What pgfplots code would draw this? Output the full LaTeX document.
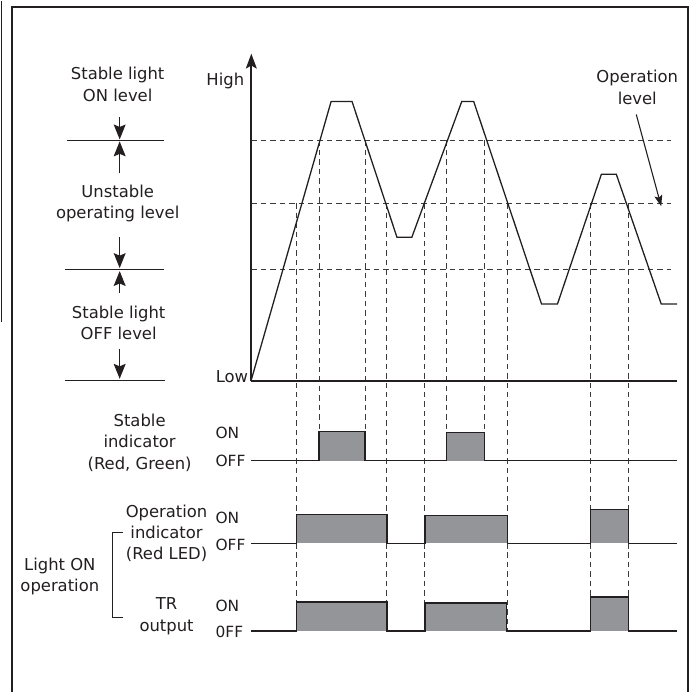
\documentclass[border=0pt]{standalone}
\usepackage{pgfplots}
\pgfplotsset{compat=1.18}
\usepackage{fontspec}
\setmainfont{DejaVu Sans}
\usetikzlibrary{arrows.meta}
\definecolor{ink}{HTML}{231F20}
\definecolor{barfill}{HTML}{939598}
\definecolor{dashc}{HTML}{3A3A3A}
\tikzset{lbl/.style={font=\fontsize{16.5}{21.5}\selectfont, text=ink, inner sep=0pt},
  sml/.style={font=\fontsize{15.5}{18}\selectfont, text=ink, inner sep=0pt, anchor=west},
  tipA/.tip={Stealth[length=15pt,width=12pt,inset=2.5pt]},
  tipB/.tip={Stealth[length=15pt,width=11pt,inset=3pt]},
  tipC/.tip={Stealth[length=11pt,width=8pt,inset=2pt]}}
\begin{document}
\begin{tikzpicture}
\begin{axis}[x=1bp, y=1bp, xmin=0, xmax=692, ymin=0, ymax=693, y dir=reverse,
  hide axis, clip=false,
  dl/.style={dashc, line width=1pt, dash pattern=on 5.5pt off 4pt},
  la/.style={ink, line width=1.2pt, -tipA}]
\path (axis cs:0,0) rectangle (axis cs:692,693);
% frame
\addplot[ink, line width=2.2pt] coordinates {(12,693) (12,6) (690,6) (690,693)};
\addplot[ink, line width=1.6pt] coordinates {(1.5,0) (1.5,322)};
% dashed horizontal levels
\addplot[dl] coordinates {(252,140) (673,140)};
\addplot[dl] coordinates {(252,203) (673,203)};
\addplot[dl] coordinates {(252,269) (673,269)};
% dashed verticals
\addplot[dl] coordinates {(320,140) (320,432)};
\addplot[dl] coordinates {(448,140) (448,432)};
\addplot[dl] coordinates {(366,140) (366,461)};
\addplot[dl] coordinates {(486,140) (486,461)};
\addplot[dl] coordinates {(297,203) (297,632)};
\addplot[dl] coordinates {(388,203) (388,632)};
\addplot[dl] coordinates {(426,203) (426,632)};
\addplot[dl] coordinates {(509,203) (509,632)};
\addplot[dl] coordinates {(592,203) (592,632)};
\addplot[dl] coordinates {(630,203) (630,632)};
% main axis
\addplot[ink, line width=1.7pt, -tipB] coordinates {(252,381) (252,53)};
\addplot[ink, line width=1.7pt] coordinates {(252,381) (679,381)};
% waveform
\addplot[ink, line width=1.3pt] coordinates {(252,380) (332,101) (353,101) (398,237) (413,237) (463,101) (475,101) (543,304) (559,304) (603,174) (618,174) (663,304) (679,304)};
% bars: stable indicator
\addplot[draw=none, fill=barfill] coordinates {(320,461) (320,432) (366,432) (366,461)} -- cycle;
\addplot[draw=none, fill=barfill] coordinates {(448,461) (448,433) (486,433) (486,461)} -- cycle;
\addplot[ink, line width=1.4pt] coordinates {(252,461) (320,461) (320,432) (366,432) (366,461) (448,461) (448,433) (486,433) (486,461) (679,461)};
% operation indicator
\addplot[draw=none, fill=barfill] coordinates {(297,544) (297,515) (388,515) (388,544)} -- cycle;
\addplot[draw=none, fill=barfill] coordinates {(426,544) (426,516) (509,516) (509,544)} -- cycle;
\addplot[draw=none, fill=barfill] coordinates {(592,544) (592,510) (630,510) (630,544)} -- cycle;
\addplot[ink, line width=1.4pt] coordinates {(252,544) (297,544) (297,515) (388,515) (388,544) (426,544) (426,516) (509,516) (509,544) (592,544) (592,510) (630,510) (630,544) (679,544)};
% TR output
\addplot[draw=none, fill=barfill] coordinates {(297,632) (297,603) (388,603) (388,632)} -- cycle;
\addplot[draw=none, fill=barfill] coordinates {(426,632) (426,604) (508,604) (508,632)} -- cycle;
\addplot[draw=none, fill=barfill] coordinates {(592,632) (592,598) (630,598) (630,632)} -- cycle;
\addplot[ink, line width=1.4pt] coordinates {(252,632) (297,632) (297,603) (388,603) (388,632) (426,632) (426,604) (508,604) (508,632) (592,632) (592,598) (630,598) (630,632) (679,632)};
% left level marks
\addplot[ink, line width=1.3pt] coordinates {(67,140) (164,140)};
\addplot[ink, line width=1.3pt] coordinates {(65,269.5) (164,269.5)};
\addplot[ink, line width=1.3pt] coordinates {(65,381) (165,381)};
\addplot[la] coordinates {(120,117) (120,139)};
\addplot[la] coordinates {(120,173) (120,141)};
\addplot[la] coordinates {(120,237) (120,268)};
\addplot[la] coordinates {(120,293) (120,271)};
\addplot[la] coordinates {(120,349) (120,379)};
% operation level arrow
\addplot[ink, line width=1.1pt, -tipC] coordinates {(638,114) (663,206)};
% bracket
\addplot[ink, line width=1.1pt] coordinates {(123,533) (113,533) (113,618) (123,618)};
% texts
\node[lbl, anchor=east] at (axis cs:245,80) {High};
\node[lbl, anchor=east] at (axis cs:249,377) {Low};
\node[lbl, align=center] at (axis cs:118,84) {Stable light\\ON level};
\node[lbl, align=center] at (axis cs:118,203) {Unstable\\operating level};
\node[lbl, align=center] at (axis cs:119,323) {Stable light\\OFF level};
\node[lbl, align=center] at (axis cs:639,87) {Operation\\level};
\node[lbl, align=center] at (axis cs:140,443) {Stable\\indicator\\(Red, Green)};
\node[lbl, align=center] at (axis cs:167,534) {Operation\\indicator\\(Red LED)};
\node[lbl, align=center] at (axis cs:60,577) {Light ON\\operation};
\node[lbl, align=center] at (axis cs:167,617) {TR\\output};
\node[sml] at (axis cs:216,433) {ON};
\node[sml] at (axis cs:216,461) {OFF};
\node[sml] at (axis cs:216,519) {ON};
\node[sml] at (axis cs:216,546) {OFF};
\node[sml] at (axis cs:216,607) {ON};
\node[sml] at (axis cs:216,633) {0FF};
\end{axis}
\end{tikzpicture}
\end{document}
